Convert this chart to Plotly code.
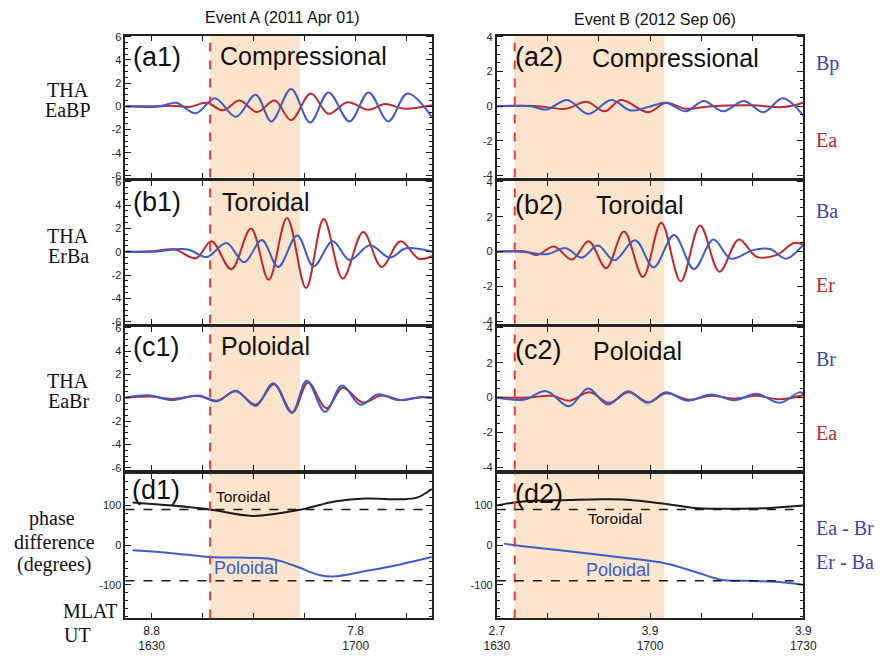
import plotly.graph_objects as go

W, H = 889, 658

# ---------------- data (time in minutes after 16:30 UT) ----------------
# Event A (2011 Apr 01)
A_a_Bp_t = [-3.9, -1.0, 1.5, 3.6, 6.5, 9.3, 12.4, 15.3, 17.6, 20.5, 23.3, 26.0, 29.1, 31.9, 34.8, 37.6, 41.3]
A_a_Bp_v = [0.0, 0.0, 0.05, 0.3, -0.6, 0.7, -0.9, 1.0, -1.3, 1.5, -1.4, 1.2, -1.3, 1.2, -1.3, 1.1, -1.0]
A_a_Ea_t = [-3.9, 0.0, 3.0, 5.5, 8.1, 10.5, 12.9, 15.5, 18.1, 20.5, 23.4, 26.0, 28.8, 31.9, 34.3, 37.1, 41.3]
A_a_Ea_v = [0.0, -0.05, 0.05, -0.05, 0.3, -0.35, 0.5, -0.5, 0.5, -1.2, 1.1, -0.65, 0.35, -0.3, 0.2, -0.2, 0.1]

A_b_Er_t = [-3.9, 0.0, 3.4, 6.5, 8.8, 11.7, 14.6, 17.2, 19.9, 22.7, 25.3, 28.1, 31.1, 33.8, 36.6, 39.3, 41.3]
A_b_Er_v = [0.0, 0.05, 0.2, -0.55, 0.9, -1.5, 2.0, -2.4, 2.9, -3.1, 2.8, -2.3, 1.7, -1.3, 0.9, -0.6, -0.35]
A_b_Ba_t = [-3.9, 0.0, 5.3, 8.1, 11.0, 13.6, 16.2, 18.6, 21.4, 23.8, 26.6, 29.1, 32.1, 35.0, 37.4, 41.3]
A_b_Ba_v = [0.0, 0.0, 0.2, -0.45, 0.75, -0.9, 1.0, -1.3, 1.4, -1.25, 0.9, -0.7, 0.55, -0.5, 0.3, 0.0]

A_c_Br_t = [-3.9, -0.2, 2.9, 6.9, 9.6, 12.4, 15.3, 17.9, 20.6, 22.8, 25.5, 28.0, 30.7, 33.3, 36.2, 39.5, 41.3]
A_c_Br_v = [0.0, 0.2, -0.2, 0.2, -0.3, 0.6, -0.7, 1.25, -1.3, 1.45, -1.2, 1.05, -0.6, 0.3, -0.2, 0.05, 0.0]
A_c_Ea_t = [-3.9, -0.2, 2.9, 6.9, 9.6, 12.4, 15.3, 18.0, 20.7, 23.0, 25.7, 28.1, 31.0, 33.8, 36.7, 39.5, 41.3]
A_c_Ea_v = [0.0, 0.1, -0.1, 0.15, -0.25, 0.55, -0.6, 1.15, -1.25, 1.3, -0.9, 0.85, -0.4, 0.2, -0.2, 0.05, 0.0]

A_d_tor_t = [-2.8, 3.0, 8.6, 14.8, 21.4, 27.1, 31.4, 36.7, 39.0, 41.2]
A_d_tor_v = [108, 100, 90, 74, 88, 111, 118, 116, 120, 142]
A_d_pol_t = [-2.8, 3.0, 8.6, 17.6, 21.0, 24.8, 26.7, 31.9, 36.7, 41.2]
A_d_pol_v = [-13, -20, -30, -35, -52, -76, -79, -64, -48, -30]

A_shade = [8.6, 21.8]
A_onset = 8.6
A_xrange = [-3.85, 41.2]
A_xticks = [0, 7.5, 15, 22.5, 30, 37.5]
A_xticktext = ["8.8<br>1630", "", "", "", "7.8<br>1700", ""]
A_yticks = [-6, -4, -2, 0, 2, 4, 6]
A_yticktext = ["-6", "-4", "-2", "0", "2", "4", "6"]

# Event B (2012 Sep 06)
B_a_Bp_t = [0.0, 6.5, 9.7, 13.8, 17.9, 22.4, 26.2, 29.7, 33.1, 37.0, 40.5, 44.3, 48.4, 52.2, 56.0, 60.0]
B_a_Bp_v = [0.0, 0.0, -0.2, 0.35, -0.45, 0.35, -0.25, -0.05, 0.2, -0.3, 0.3, -0.3, 0.3, -0.35, 0.45, -0.55]
B_a_Ea_t = [0.0, 8.0, 13.5, 17.6, 21.1, 24.3, 29.7, 33.1, 37.0, 42.0, 50.0, 56.0, 60.0]
B_a_Ea_v = [0.0, 0.0, -0.15, 0.25, -0.3, 0.35, -0.35, 0.2, -0.15, 0.0, 0.05, -0.05, 0.2]

B_b_Er_t = [0.0, 5.8, 7.8, 11.2, 14.7, 18.0, 21.4, 24.9, 28.6, 32.2, 36.0, 39.8, 43.6, 47.4, 50.9, 54.7, 58.2, 60.0]
B_b_Er_v = [0.0, 0.0, -0.2, 0.3, -0.45, 0.6, -0.95, 1.15, -1.45, 1.65, -1.7, 1.5, -1.15, 0.7, -0.3, -0.2, 0.5, 0.4]
B_b_Ba_t = [0.0, 5.0, 9.7, 13.5, 16.6, 19.8, 23.0, 27.1, 30.7, 34.7, 38.6, 42.4, 45.8, 50.3, 53.5, 56.6, 60.0]
B_b_Ba_v = [0.0, 0.0, -0.15, 0.2, -0.35, 0.35, -0.5, 0.65, -0.9, 0.95, -1.0, 0.7, -0.4, 0.1, 0.15, -0.4, 0.4]

B_c_Br_t = [0.0, 5.2, 9.7, 14.1, 17.9, 21.7, 25.7, 29.5, 33.1, 37.3, 42.0, 46.5, 50.9, 55.4, 59.2, 60.0]
B_c_Br_v = [0.0, -0.12, 0.37, -0.5, 0.52, -0.4, 0.37, -0.3, 0.3, -0.18, 0.18, -0.15, 0.22, -0.3, 0.3, 0.25]
B_c_Ea_t = [0.0, 6.0, 10.9, 14.1, 18.2, 22.0, 25.8, 29.7, 33.1, 37.6, 42.0, 46.5, 50.9, 55.4, 60.0]
B_c_Ea_v = [0.0, 0.0, 0.1, -0.18, 0.3, -0.3, 0.3, -0.27, 0.25, -0.12, 0.1, -0.07, 0.1, -0.1, 0.15]

B_d_tor_t = [0.0, 4.6, 14.1, 20.5, 25.5, 33.1, 39.5, 45.8, 52.2, 60.0]
B_d_tor_v = [100, 110, 114, 116, 115, 104, 93, 92, 93, 100]
B_d_pol_t = [1.4, 3.5, 14.1, 23.6, 33.1, 39.5, 43.9, 49.0, 55.3, 60.0]
B_d_pol_v = [4, 0, -15, -30, -46, -70, -87, -90, -93, -100]

B_shade = [3.5, 32.8]
B_onset = 3.5
B_xrange = [0, 60]
B_xticks = [0, 10, 20, 30, 40, 50, 60]
B_xticktext = ["2.7<br>1630", "", "", "3.9<br>1700", "", "", "3.9<br>1730"]
B_yticks = [-4, -2, 0, 2, 4]
B_yticktext = ["-4", "-2", "0", "2", "4"]

D_yticks = [-100, 0, 100]
D_yticktext = ["-100", "0", "100"]
phase_ref = [90, -90]

# ---------------- style ----------------
RED = "#c0282d"
BLUE = "#3d5cc6"
BLACK = "#1a1a1a"
SHADE = "#fbe4cc"
ONSET = "#e33b3b"
SANS = "Liberation Sans, Arial, sans-serif"
SERIF = "Liberation Serif, Times New Roman, serif"

COLS = {"A": (116, 432), "B": (499, 815)}
ROWS = [(31, 175), (178, 323), (326, 471), (475, 622)]


def px_x(p):
    return p / W


def px_y(p):
    return 1 - p / H


fig = go.Figure()

panels = [
    ("A", 0, [(A_a_Ea_t, A_a_Ea_v, RED), (A_a_Bp_t, A_a_Bp_v, BLUE)], [-6.15, 6.1], 0.5),
    ("A", 1, [(A_b_Er_t, A_b_Er_v, RED), (A_b_Ba_t, A_b_Ba_v, BLUE)], [-6.15, 6.1], 0.5),
    ("A", 2, [(A_c_Ea_t, A_c_Ea_v, RED), (A_c_Br_t, A_c_Br_v, BLUE)], [-6.15, 6.1], 0.5),
    ("A", 3, [(A_d_tor_t, A_d_tor_v, BLACK), (A_d_pol_t, A_d_pol_v, BLUE)], [-185, 181], 20),
    ("B", 0, [(B_a_Ea_t, B_a_Ea_v, RED), (B_a_Bp_t, B_a_Bp_v, BLUE)], [-4.12, 4.07], 0.5),
    ("B", 1, [(B_b_Er_t, B_b_Er_v, RED), (B_b_Ba_t, B_b_Ba_v, BLUE)], [-4.12, 4.07], 0.5),
    ("B", 2, [(B_c_Ea_t, B_c_Ea_v, RED), (B_c_Br_t, B_c_Br_v, BLUE)], [-4.12, 4.07], 0.5),
    ("B", 3, [(B_d_tor_t, B_d_tor_v, BLACK), (B_d_pol_t, B_d_pol_v, BLUE)], [-185, 181], 20),
]

layout_axes = {}
shapes = []
for i, (col, row, series, yr, ymin) in enumerate(panels, start=1):
    xs = "" if i == 1 else str(i)
    xref, yref = "x" + xs, "y" + xs
    for t, v, c in series:
        fig.add_trace(go.Scatter(x=t, y=v, mode="lines", xaxis=xref, yaxis=yref,
                                 line=dict(color=c, width=2, shape="spline", smoothing=1.0),
                                 showlegend=False, hoverinfo="skip"))
    x0, x1 = COLS[col]
    y0, y1 = ROWS[row]
    if col == "A":
        xrange, xticks, xtext, shade, onset = A_xrange, A_xticks, A_xticktext, A_shade, A_onset
        yvals, ytext = A_yticks, A_yticktext
    else:
        xrange, xticks, xtext, shade, onset = B_xrange, B_xticks, B_xticktext, B_shade, B_onset
        yvals, ytext = B_yticks, B_yticktext
    if row == 3:
        yvals, ytext = D_yticks, D_yticktext
    bottom = row == 3
    layout_axes["xaxis" + xs] = dict(
        domain=[px_x(x0), px_x(x1)], anchor=yref, range=xrange,
        tickmode="array", tickvals=xticks, ticktext=xtext,
        showticklabels=bottom, ticks="inside", ticklen=5, tickwidth=1.2, tickcolor=BLACK,
        showline=True, linewidth=2, linecolor="#222", mirror="allticks",
        showgrid=False, zeroline=False,
        tickfont=dict(family=SANS, size=12, color="#222"),
    )
    layout_axes["yaxis" + xs] = dict(
        domain=[px_y(y1), px_y(y0)], anchor=xref, range=yr,
        tickmode="array", tickvals=yvals, ticktext=ytext,
        ticks="inside", ticklen=6, tickwidth=1.2, tickcolor=BLACK,
        minor=dict(ticks="inside", ticklen=3, dtick=ymin, tickcolor=BLACK, tickwidth=1, showgrid=False),
        showline=True, linewidth=2, linecolor="#222", mirror="allticks",
        showgrid=False, zeroline=False,
        tickfont=dict(family=SANS, size=11, color="#222"),
    )
    shapes.append(dict(type="rect", xref=xref, yref=yref + " domain", x0=shade[0], x1=shade[1],
                       y0=0, y1=1, fillcolor=SHADE, line=dict(width=0), layer="below"))
    shapes.append(dict(type="line", xref=xref, yref=yref + " domain", x0=onset, x1=onset,
                       y0=0, y1=1, line=dict(color=ONSET, width=2, dash="dash"), layer="above"))
    if row == 3:
        for r in phase_ref:
            shapes.append(dict(type="line", xref=xref + " domain", yref=yref, x0=0, x1=1,
                               y0=r, y1=r, line=dict(color=BLACK, width=1.5, dash="dash"), layer="above"))

ann = []


def text(s, x, y, size, family=SANS, color="#111", xanchor="left", yanchor="middle"):
    ann.append(dict(text=s, x=px_x(x), y=px_y(y), xref="paper", yref="paper", showarrow=False,
                    xanchor=xanchor, yanchor=yanchor,
                    font=dict(family=family, size=size, color=color)))


DY = -3  # small upward nudge for text centres

# titles
text("Event A (2011 Apr 01)", 277.5, 13, 16, xanchor="center")
text("Event B (2012 Sep 06)", 662, 15, 16, xanchor="center")

# panel labels
for lab, x, y in [("(a1)", 122, 56), ("(b1)", 122, 203), ("(c1)", 122, 350), ("(d1)", 121, 495),
                  ("(a2)", 516, 56), ("(b2)", 516, 206), ("(c2)", 516, 353), ("(d2)", 516, 499)]:
    text(lab, x, y + DY, 27)
for lab, x, y in [("Compressional", 211, 55), ("Toroidal", 213, 203), ("Poloidal", 212, 349),
                  ("Compressional", 595, 57), ("Toroidal", 599, 206), ("Poloidal", 596, 354)]:
    text(lab, x, y + DY, 25)
text("Toroidal", 207, 501 + DY, 15.5)
text("Poloidal", 205, 574 + DY, 18, color=BLUE)
text("Toroidal", 591, 524 + DY, 15.5)
text("Poloidal", 589, 576 + DY, 18, color=BLUE)

# left serif labels
for s, y in [("THA", 89), ("EaBP", 109), ("THA", 237), ("ErBa", 257), ("THA", 384), ("EaBr", 404)]:
    text(s, 57, y + DY, 20, family=SERIF, xanchor="center")
for s, x, y in [("phase", 40, 524), ("difference", 43, 547), ("(degrees)", 42, 570)]:
    text(s, x, y + DY, 20, family=SERIF, xanchor="center")
text("MLAT", 49, 617 + DY, 20, family=SERIF)
text("UT", 51, 642 + DY, 20, family=SERIF)

# right serif labels
RLBL_BLUE = "#3a47a8"
RLBL_RED = "#b8282e"
for s, y, c in [("Bp", 62, RLBL_BLUE), ("Ea", 140, RLBL_RED), ("Ba", 212, RLBL_BLUE), ("Er", 287, RLBL_RED),
                ("Br", 362, RLBL_BLUE), ("Ea", 437, RLBL_RED), ("Ea - Br", 533, RLBL_BLUE),
                ("Er - Ba", 568, RLBL_BLUE)]:
    text(s, 826, y + DY, 20, family=SERIF, color=c)

fig.update_layout(
    width=W, height=H, margin=dict(l=0, r=0, t=0, b=0),
    paper_bgcolor="white", plot_bgcolor="white",
    shapes=shapes, annotations=ann, showlegend=False,
    **layout_axes,
)

fig.write_html("out.html")
